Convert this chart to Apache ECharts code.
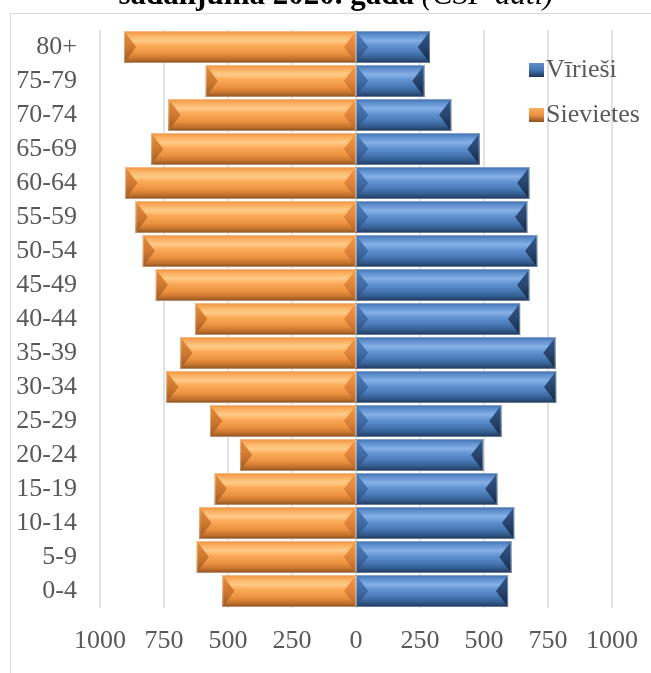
<!DOCTYPE html>
<html>
<head>
<meta charset="utf-8">
<script src="https://cdn.jsdelivr.net/npm/echarts@6/dist/echarts.min.js"></script>
<style>
html,body{margin:0;padding:0;background:#fff;}
#main{width:651px;height:673px;}
</style>
</head>
<body>
<div id="main"></div>
<script>
var categories = ["0-4","5-9","10-14","15-19","20-24","25-29","30-34","35-39","40-44","45-49","50-54","55-59","60-64","65-69","70-74","75-79","80+"];
var men   = [594, 607, 618, 552, 497, 568, 782, 779, 641, 677, 708, 669, 677, 483, 372, 267, 289];
var women = [522, 622, 612, 552, 453, 570, 741, 686, 628, 782, 833, 861, 901, 800, 733, 587, 906];
var xTicks = [-1000, -750, -500, -250, 0, 250, 500, 750, 1000];
var titleBold = "sadalījumā 2020. gadā ";
var titleItalic = "(CSP dati)";

var FONT = "Liberation Serif";
var G = echarts.graphic;

function grad(stops){
  return new G.LinearGradient(0,0,0,1, stops.map(function(s){return {offset:s[0], color:s[1]};}));
}

var palettes = {
  men: {
    body: [[0,'#3f6ea8'],[0.12,'#5f8fcf'],[0.3,'#86b0e6'],[0.45,'#6495d4'],[0.7,'#4676b2'],[0.86,'#335a8c'],[1,'#1d3658']],
    outer: [[0,'#33598c'],[0.5,'#27456f'],[1,'#142844']],
    inner: [[0,'#4f7fbd'],[0.5,'#3f6ba5'],[1,'#2a4a76']]
  },
  women: {
    body: [[0,'#f1923e'],[0.12,'#f9ad5e'],[0.3,'#ffcb88'],[0.45,'#fbab58'],[0.7,'#ec9140'],[0.86,'#c7742f'],[1,'#8c5220']],
    outer: [[0,'#e58e3e'],[0.5,'#cf7930'],[1,'#9c5a22']],
    inner: [[0,'#f29a48'],[0.5,'#e0843a'],[1,'#b36428']]
  }
};

function makeRender(pal, outerLeft){
  return function(params, api){
    var v = api.value(0);
    var idx = api.value(1);
    var p0 = api.coord([0, idx]);
    var p1 = api.coord([v, idx]);
    var h = api.size([0, 1])[1] * 0.94;
    var y0 = p0[1] - h/2, y1 = p0[1] + h/2, ym = p0[1];
    var xl = Math.min(p0[0], p1[0]), xr = Math.max(p0[0], p1[0]);
    var w = xr - xl;
    var d = Math.min(h * 0.38, w / 2);
    var leftFill = outerLeft ? pal.outer : pal.inner;
    var rightFill = outerLeft ? pal.inner : pal.outer;
    return {
      type: 'group',
      children: [
        {type:'rect', shape:{x:xl, y:y0, width:w, height:h}, style:{fill:grad(pal.body)}},
        {type:'polygon', shape:{points:[[xl,y0],[xl+d,ym],[xl,y1]]}, style:{fill:grad(leftFill)}},
        {type:'polygon', shape:{points:[[xr,y0],[xr-d,ym],[xr,y1]]}, style:{fill:grad(rightFill)}},
        {type:'rect', shape:{x:xl+0.5, y:y0+0.5, width:Math.max(w-1,0), height:h-1}, style:{fill:'none', stroke:'rgba(255,255,255,0.35)', lineWidth:1}}
      ]
    };
  };
}

var menData = men.map(function(v,i){return [v, i];});
var womenData = women.map(function(v,i){return [-v, i];});

var chart = echarts.init(document.getElementById('main'), null, {renderer:'canvas'});
chart.setOption({
  animation: false,
  backgroundColor: '#ffffff',
  textStyle: {fontFamily: FONT},
  grid: {left: 100, right: 39, top: 30, bottom: 65, containLabel: false},
  legend: {
    orient: 'vertical',
    left: 524, top: 52,
    itemWidth: 15, itemHeight: 14, itemGap: 19,
    icon: 'rect',
    data: ['Vīrieši', 'Sievietes'],
    textStyle: {fontFamily: FONT, fontSize: 26, color: '#595959', padding:[0,0,0,-3]}
  },
  xAxis: {
    type: 'value', min: -1000, max: 1000, interval: 250,
    axisLine: {show:false}, axisTick: {show:false},
    splitLine: {show:true, lineStyle:{color:'#d9d9d9', width:1.5}},
    axisLabel: {
      fontFamily: FONT, fontSize: 26, color: '#595959', margin: 20,
      formatter: function(v){ return xTicks.indexOf(v) >= 0 ? String(Math.abs(v)) : ''; }
    }
  },
  yAxis: {
    type: 'category', data: categories,
    axisLine: {show:false}, axisTick: {show:false},
    axisLabel: {fontFamily: FONT, fontSize: 26, color: '#595959', margin: 23}
  },
  series: [
    {
      name: 'Vīrieši', type: 'custom', data: menData,
      encode: {x: 0, y: 1},
      itemStyle: {color: grad([[0,'#5f8fcf'],[0.5,'#4676b2'],[1,'#1d3658']])},
      renderItem: makeRender(palettes.men, false)
    },
    {
      name: 'Sievietes', type: 'custom', data: womenData,
      encode: {x: 0, y: 1},
      itemStyle: {color: grad([[0,'#f9ad5e'],[0.5,'#ec9140'],[1,'#8c5220']])},
      renderItem: makeRender(palettes.women, true)
    }
  ],
  graphic: [
    {type:'rect', z: -1, shape:{x:10.5, y:13.5, width:700, height:700}, style:{fill:'none', stroke:'#d9d9d9', lineWidth:1}},
    {type:'text', x: 336, y: -4, style:{
      text: '{b|' + titleBold + '}{i|' + titleItalic + '}',
      align: 'center', verticalAlign: 'middle',
      rich: {
        b: {fontFamily: FONT, fontSize: 31, fontWeight: 'bold', fill: '#000'},
        i: {fontFamily: FONT, fontSize: 31, fontStyle: 'italic', fill: '#000'}
      }
    }}
  ]
});
</script>
</body>
</html>
